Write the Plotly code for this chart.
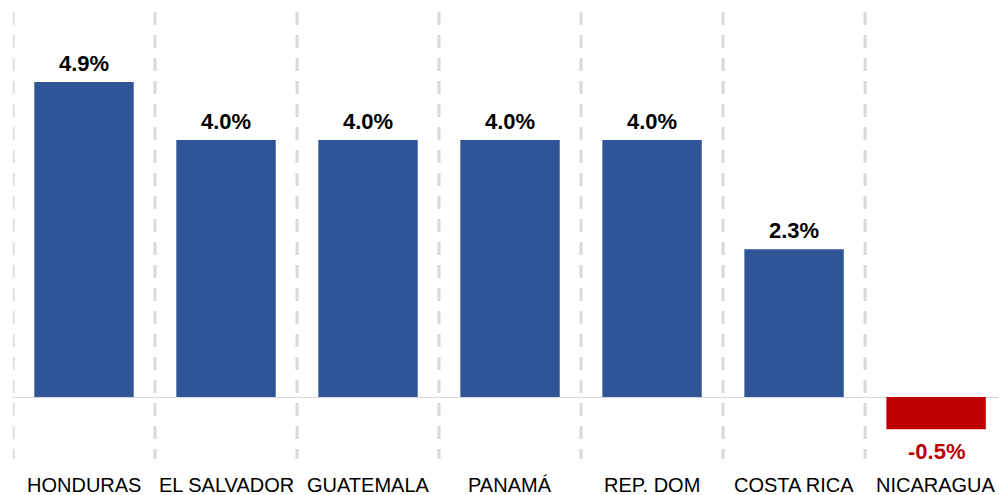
import plotly.graph_objects as go

countries = ["HONDURAS", "EL SALVADOR", "GUATEMALA", "PANAMÁ", "REP. DOM", "COSTA RICA", "NICARAGUA"]
values = [4.9, 4.0, 4.0, 4.0, 4.0, 2.3, -0.5]
value_labels = ["4.9%", "4.0%", "4.0%", "4.0%", "4.0%", "2.3%", "-0.5%"]

BLUE = "#2F5597"
RED = "#C00000"
FONT = "Liberation Sans, Arial, sans-serif"

xs = list(range(len(countries)))
colors = [RED if v < 0 else BLUE for v in values]

fig = go.Figure()
fig.add_trace(go.Bar(x=xs, y=values, marker=dict(color=colors, line=dict(width=0)),
                     width=0.7, hoverinfo="skip"))

annotations = []
for x, v, lab in zip(xs, values, value_labels):
    neg = v < 0
    annotations.append(dict(
        x=x, y=v, xref="x", yref="y", text="<b>%s</b>" % lab, showarrow=False,
        yanchor="top" if neg else "bottom", yshift=-8 if neg else 4,
        font=dict(family=FONT, size=22, color=RED if neg else "#000000")))
for x, c in zip(xs, countries):
    annotations.append(dict(
        x=x, y=0, xref="x", yref="paper", text=c, showarrow=False,
        yanchor="middle", yshift=-26,
        font=dict(family=FONT, size=20, color="#000000")))

shapes = []
for x in xs:
    shapes.append(dict(type="line", xref="x", yref="paper", x0=x - 0.5, x1=x - 0.5,
                       y0=1, y1=0, line=dict(color="#D9D9D9", width=3, dash="13px,10px"),
                       layer="below"))

fig.update_layout(
    width=999, height=495,
    margin=dict(l=13, r=0, t=12, b=36),
    paper_bgcolor="white", plot_bgcolor="white",
    showlegend=False,
    bargap=0.3,
    xaxis=dict(range=[-0.5, 6.443], showgrid=False, zeroline=False, showticklabels=False,
               showline=False, ticks=""),
    yaxis=dict(range=[-0.964, 5.99], showgrid=False, zeroline=True, zerolinecolor="#D9D9D9",
               zerolinewidth=1, showticklabels=False, showline=False, ticks=""),
    annotations=annotations,
    shapes=shapes,
)

fig.write_html("out.html", config={"displayModeBar": False},
               post_script="document.body.style.margin='0';document.body.style.overflow='hidden';")
